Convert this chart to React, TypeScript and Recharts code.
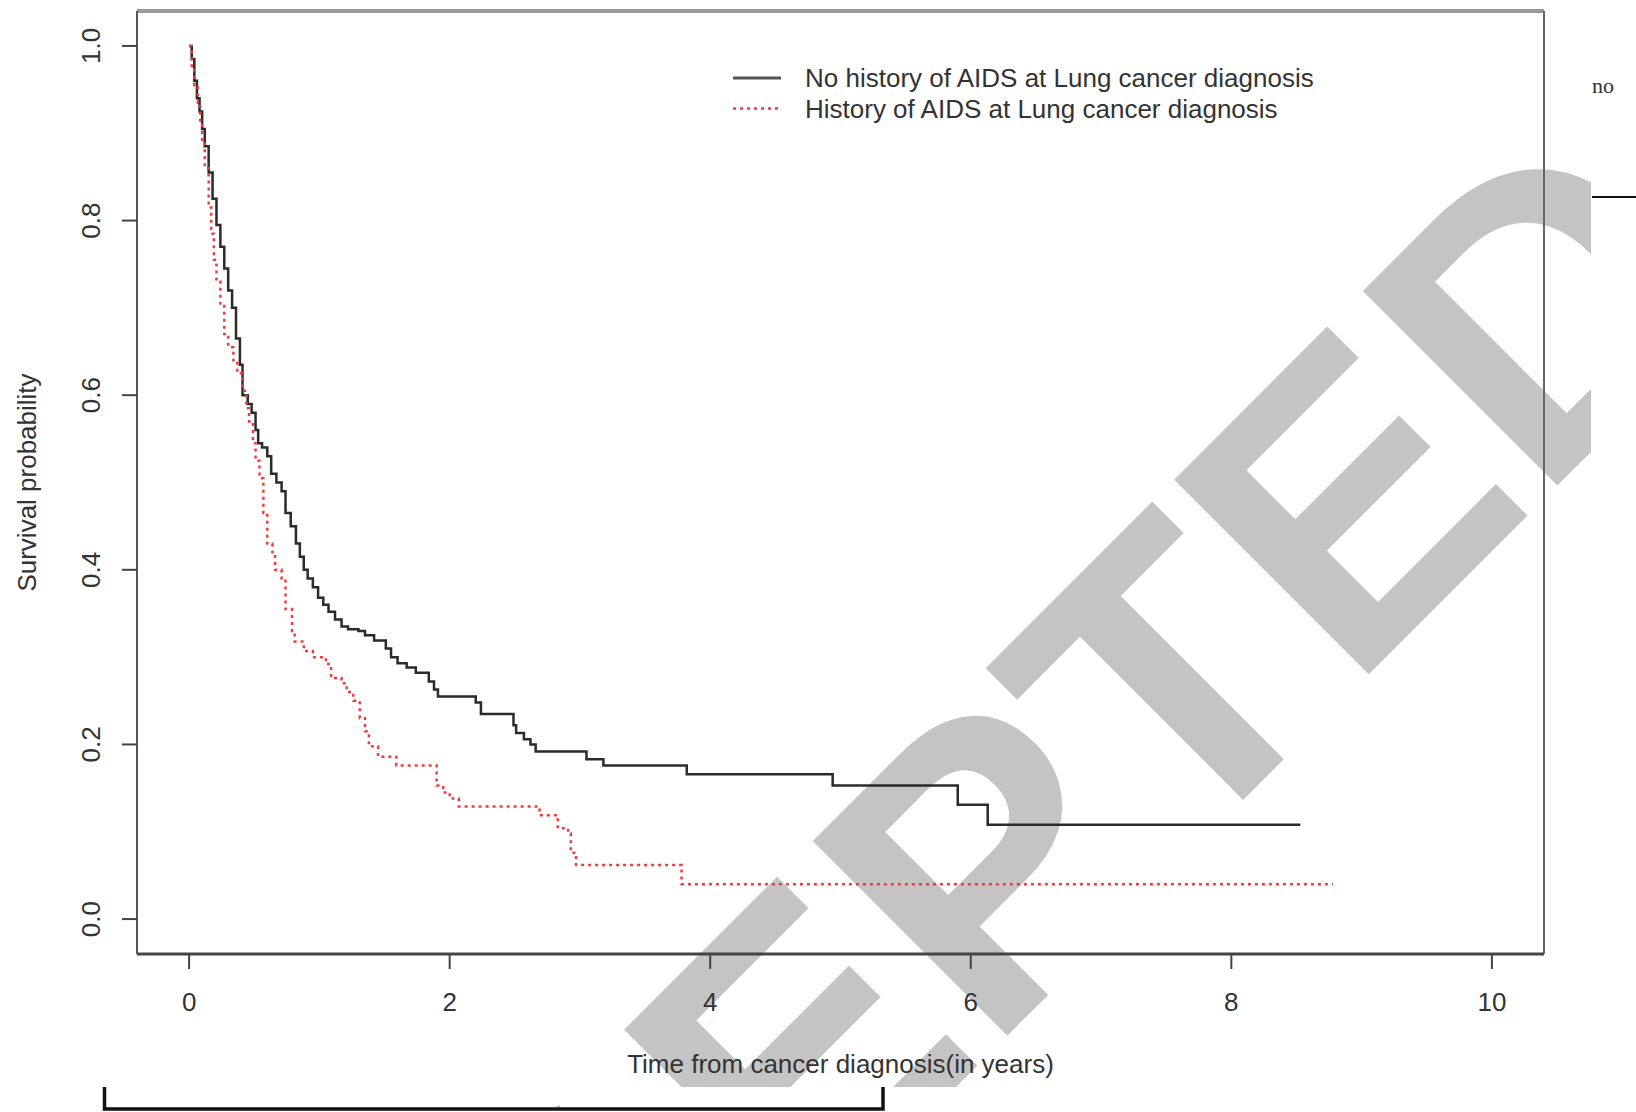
import React from 'react';
import { LineChart, Line, XAxis, YAxis, ReferenceLine, Legend, Label } from 'recharts';

// Kaplan-Meier style survival curves
const xTicks = [0, 2, 4, 6, 8, 10];
const yTicks = [0, 0.2, 0.4, 0.6, 0.8, 1.0];

const seriesNames = [
  'No history of AIDS at Lung cancer diagnosis',
  'History of AIDS at Lung cancer diagnosis',
];

const noAidsTime = [
  0, 0.02, 0.04, 0.06, 0.08, 0.1, 0.12, 0.15, 0.18, 0.21, 0.24, 0.27, 0.3, 0.33, 0.36, 0.39, 0.41,
  0.45, 0.48, 0.51, 0.53, 0.56, 0.6, 0.63, 0.67, 0.71, 0.74, 0.78, 0.82, 0.85, 0.88, 0.91, 0.95,
  0.99, 1.03, 1.07, 1.12, 1.17, 1.22, 1.3, 1.35, 1.42, 1.51, 1.55, 1.6, 1.67, 1.74, 1.84, 1.88,
  1.91, 2.2, 2.24, 2.49, 2.51, 2.57, 2.62, 2.66, 3.05, 3.18, 3.82, 4.94, 5.9, 6.13, 8.53,
];
const noAidsSurv = [
  1.0, 0.985, 0.96, 0.94, 0.925, 0.905, 0.885, 0.855, 0.825, 0.795, 0.77, 0.745, 0.72, 0.7, 0.665, 0.635, 0.6,
  0.59, 0.58, 0.56, 0.545, 0.54, 0.53, 0.51, 0.5, 0.49, 0.465, 0.45, 0.43, 0.415, 0.4, 0.39, 0.38,
  0.368, 0.36, 0.352, 0.343, 0.335, 0.332, 0.33, 0.325, 0.319, 0.31, 0.3, 0.293, 0.288, 0.282, 0.272, 0.263,
  0.255, 0.248, 0.235, 0.222, 0.213, 0.206, 0.2, 0.192, 0.183, 0.176, 0.166, 0.153, 0.131, 0.108, 0.108,
];

const aidsTime = [
  0, 0.02, 0.04, 0.067, 0.085, 0.1, 0.12, 0.15, 0.17, 0.19, 0.21, 0.24, 0.27, 0.3, 0.34, 0.37, 0.41,
  0.44, 0.46, 0.49, 0.51, 0.54, 0.57, 0.6, 0.64, 0.66, 0.71, 0.74, 0.79, 0.81, 0.88, 0.95, 1.05,
  1.09, 1.17, 1.21, 1.26, 1.31, 1.35, 1.38, 1.45, 1.59, 1.9, 1.95, 2.0, 2.07, 2.69, 2.83, 2.91,
  2.93, 2.97, 3.78, 8.78,
];
const aidsSurv = [
  1.0, 0.975, 0.955, 0.935, 0.91, 0.888, 0.86, 0.815, 0.785, 0.755, 0.73, 0.705, 0.67, 0.655, 0.64, 0.625, 0.605,
  0.585, 0.57, 0.545, 0.525, 0.505, 0.465, 0.43, 0.42, 0.4, 0.39, 0.355, 0.33, 0.318, 0.307, 0.3, 0.292,
  0.276, 0.27, 0.26, 0.25, 0.23, 0.215, 0.198, 0.186, 0.176, 0.153, 0.145, 0.138, 0.129, 0.119, 0.104, 0.098,
  0.076, 0.062, 0.04, 0.04,
];

const toRows = (time: number[], surv: number[]) => time.map((t, i) => ({ t, s: surv[i] }));
const noAidsData = toRows(noAidsTime, noAidsSurv);
const aidsData = toRows(aidsTime, aidsSurv);

const FONT = '"Liberation Sans", Arial, Helvetica, sans-serif';
const TEXT = '#333';
const RED = '#f03c3c';

const YTick = (props: any) => {
  const { x, y, payload } = props;
  const bx = x - 20;
  return (
    <text x={bx} y={y} transform={`rotate(-90, ${bx}, ${y})`} textAnchor="middle"
      fill={TEXT} fontSize={26} fontFamily={FONT}>
      {Number(payload.value).toFixed(1)}
    </text>
  );
};

const YTitle = (props: any) => {
  const { x, y, height } = props.viewBox;
  const cx = x + 27;
  const cy = y + height / 2;
  return (
    <text x={cx} y={cy} transform={`rotate(-90, ${cx}, ${cy})`} textAnchor="middle"
      dominantBaseline="central" fill={TEXT} fontSize={26} fontFamily={FONT}>
      Survival probability
    </text>
  );
};

const XTitle = (props: any) => {
  const { x, y, width } = props.viewBox;
  return (
    <text x={x + width / 2} y={y + 110} textAnchor="middle" dominantBaseline="central"
      fill={TEXT} fontSize={26} fontFamily={FONT}>
      Time from cancer diagnosis(in years)
    </text>
  );
};

const LegendBox = () => (
  <svg width={620} height={70} style={{ display: 'block' }}>
    <line x1={0} x2={48} y1={20} y2={20} stroke="#555" strokeWidth={3} />
    <text x={72} y={20} dominantBaseline="central" fill={TEXT} fontSize={26} fontFamily={FONT}>
      {seriesNames[0]}
    </text>
    <line x1={0} x2={48} y1={50.5} y2={50.5} stroke={RED} strokeWidth={2.5} strokeDasharray="3 4" />
    <text x={72} y={50.5} dominantBaseline="central" fill={TEXT} fontSize={26} fontFamily={FONT}>
      {seriesNames[1]}
    </text>
  </svg>
);

// page artefacts around the figure (watermark, margin text, bracket)
const PageBackdrop = () => (
  <svg width={1636} height={1112} style={{ position: 'absolute', left: 0, top: 0 }}>
    <defs>
      <clipPath id="wmClip">
        <rect x={0} y={0} width={1591} height={1087} />
        <rect x={490} y={1087} width={70} height={20} />
      </clipPath>
    </defs>
    <g clipPath="url(#wmClip)">
      <text x={187} y={1856} transform="rotate(-45, 187, 1856)" fontSize={400} fontWeight={700}
        fontFamily={FONT} fill="#c4c4c4">
        ACCEPTED
      </text>
    </g>
    <text x={1592} y={93} fontSize={22} fontFamily='"Liberation Serif", serif' fill="#333">no</text>
    <line x1={1592} x2={1636} y1={197} y2={197} stroke="#111" strokeWidth={2} />
    <path d="M104.5 1087 V1109 H883 V1087" stroke="#111" strokeWidth={3.5} fill="none" />
  </svg>
);

export default function App() {
  return (
    <div style={{ position: 'absolute', left: 0, top: 0, width: 1636, height: 1112, background: '#fff' }}>
      <PageBackdrop />
      <div style={{ position: 'absolute', left: 0, top: 0 }}>
        <LineChart width={1636} height={1112} margin={{ top: 11, right: 92, bottom: 78, left: 0 }}>
          <XAxis
            type="number"
            dataKey="t"
            domain={[-0.4, 10.4]}
            ticks={xTicks}
            allowDataOverflow
            height={80}
            tickSize={15}
            tickMargin={24}
            axisLine={{ stroke: '#444', strokeWidth: 3 }}
            tickLine={{ stroke: '#444', strokeWidth: 2 }}
            tick={{ fill: TEXT, fontSize: 26, fontFamily: FONT }}
          >
            <Label content={XTitle} />
          </XAxis>
          <YAxis
            type="number"
            dataKey="s"
            domain={[-0.04, 1.04]}
            ticks={yTicks}
            allowDataOverflow
            width={137}
            tickSize={15}
            axisLine={{ stroke: '#555', strokeWidth: 2 }}
            tickLine={{ stroke: '#444', strokeWidth: 2 }}
            tick={<YTick />}
          >
            <Label content={YTitle} />
          </YAxis>
          <ReferenceLine y={1.04} stroke="#999" strokeWidth={4} ifOverflow="visible" />
          <ReferenceLine x={10.4} stroke="#666" strokeWidth={2} ifOverflow="visible" />
          <Legend
            layout="vertical"
            align="center"
            verticalAlign="middle"
            content={LegendBox}
            wrapperStyle={{ left: 733, top: 58, width: 620, height: 70 }}
          />
          <Line
            data={noAidsData}
            dataKey="s"
            name={seriesNames[0]}
            type="stepAfter"
            stroke="#2b2b2b"
            strokeWidth={2.5}
            dot={false}
            activeDot={false}
            isAnimationActive={false}
          />
          <Line
            data={aidsData}
            dataKey="s"
            name={seriesNames[1]}
            type="stepAfter"
            stroke={RED}
            strokeWidth={2.5}
            strokeDasharray="3 4"
            dot={false}
            activeDot={false}
            isAnimationActive={false}
          />
        </LineChart>
      </div>
    </div>
  );
}
